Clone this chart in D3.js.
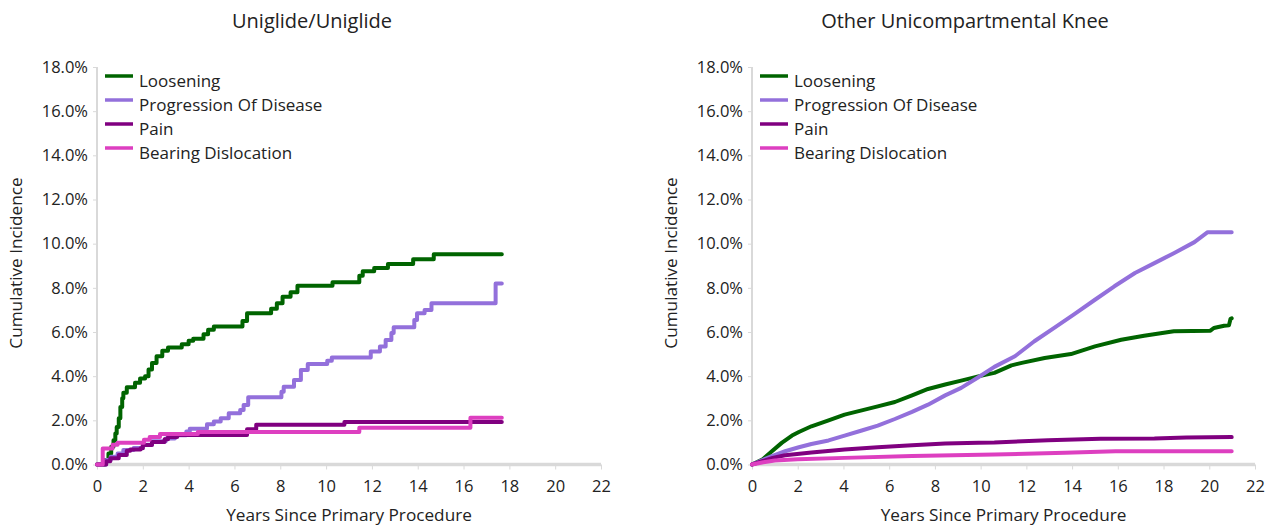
<!DOCTYPE html>
<html>
<head>
<meta charset="utf-8">
<script src="https://cdn.jsdelivr.net/npm/d3@7/dist/d3.min.js"></script>
<style>
  html, body { margin: 0; padding: 0; background: #fff; }
  svg { display: block; }
  text { font-family: "Open Sans", "Noto Sans", sans-serif; fill: #222; }
</style>
</head>
<body>
<svg id="chart" width="1277" height="529"></svg>
<script>
// ---------- DATA ----------
const seriesNames = ["Loosening", "Progression Of Disease", "Pain", "Bearing Dislocation"];
const seriesColors = ["#006400", "#9370DB", "#800080", "#DD3FC0"];
const xTicks = [0, 2, 4, 6, 8, 10, 12, 14, 16, 18, 20, 22];
const yTicks = [0, 2, 4, 6, 8, 10, 12, 14, 16, 18];
const panelTitles = ["Uniglide/Uniglide", "Other Unicompartmental Knee"];

// Uniglide/Uniglide (step curves) [years, cumulative %]
const uniLoosening = [
  [0,0],[0.35,0.2],[0.5,0.5],[0.62,0.8],[0.72,1.1],[0.8,1.4],[0.86,1.7],[0.95,2.1],[1.02,2.6],[1.1,3.0],[1.15,3.25],[1.3,3.5],
  [1.66,3.7],[1.88,3.9],[2.1,4.0],[2.25,4.3],[2.4,4.6],[2.6,4.9],[2.85,5.15],[3.1,5.3],
  [3.7,5.45],[4.0,5.6],[4.2,5.7],[4.65,5.9],[4.85,6.1],[5.1,6.25],[6.35,6.5],[6.55,6.85],
  [7.6,7.05],[7.85,7.3],[8.1,7.6],[8.45,7.8],[8.75,8.1],[10.28,8.25],[11.45,8.55],[11.6,8.75],
  [12.1,8.9],[12.7,9.08],[13.8,9.3],[14.7,9.52],[17.67,9.52]
];
const uniProgression = [
  [0,0],[0.4,0.2],[0.6,0.35],[0.9,0.5],[1.15,0.66],[1.6,0.75],[2.0,0.9],[2.4,1.05],[3.0,1.18],[3.4,1.32],[3.9,1.5],[4.05,1.62],
  [4.8,1.82],[5.1,1.95],[5.4,2.1],[5.75,2.32],[6.25,2.47],[6.4,2.7],[6.6,3.05],[8.05,3.3],[8.15,3.52],
  [8.6,3.83],[8.9,4.28],[9.2,4.55],[10.05,4.7],[10.25,4.85],[11.95,5.12],[12.35,5.34],[12.6,5.64],
  [12.85,5.95],[12.95,6.22],[13.85,6.54],[13.97,6.85],[14.3,7.0],[14.6,7.3],[17.4,8.2],[17.67,8.2]
];
const uniPain = [
  [0,0],[0.4,0.15],[0.58,0.28],[0.95,0.43],[1.3,0.62],[1.45,0.68],[1.9,0.74],[2.0,0.88],[2.4,1.02],[2.95,1.14],
  [3.1,1.25],[3.5,1.34],[6.55,1.6],[6.95,1.8],[10.8,1.93],[17.67,1.93]
];
const uniBearing = [
  [0,0],[0.25,0.72],[0.68,0.9],[0.9,0.98],[2.05,1.12],[2.3,1.25],[2.75,1.38],[4.4,1.47],[11.45,1.66],[16.3,2.12],[17.67,2.12]
];

// Other Unicompartmental Knee [years, cumulative %]
const othLoosening = [
  [0,0],[0.45,0.22],[0.87,0.6],[1.3,0.98],[1.75,1.31],[2.05,1.47],[2.6,1.73],[3.35,2.0],[4.05,2.26],[4.8,2.45],
  [5.5,2.63],[6.25,2.83],[7.0,3.13],[7.7,3.42],[8.45,3.62],[9.15,3.8],[9.9,3.99],[10.6,4.15],[11.35,4.49],
  [11.8,4.6],[12.8,4.82],[13.95,5.0],[15.0,5.35],[16.15,5.65],[17.15,5.83],[18.45,6.03],[20.05,6.06],
  [20.2,6.18],[20.65,6.28],[20.86,6.3],[20.93,6.6],[20.98,6.62]
];
const othProgression = [
  [0,0],[0.87,0.38],[1.45,0.6],[2.05,0.78],[2.6,0.93],[3.35,1.09],[4.05,1.31],[4.8,1.54],[5.5,1.76],[6.25,2.06],
  [7.0,2.38],[7.7,2.71],[8.45,3.13],[9.15,3.47],[9.9,3.95],[10.6,4.42],[11.5,4.9],[12.35,5.58],[13.25,6.21],
  [14.1,6.81],[15.0,7.46],[15.85,8.07],[16.75,8.67],[17.6,9.12],[18.45,9.57],[19.35,10.07],[19.93,10.52],[20.98,10.52]
];
const othPain = [
  [0,0],[0.9,0.3],[1.45,0.42],[2.6,0.54],[4.05,0.68],[5.5,0.78],[7.0,0.87],[8.45,0.95],[9.9,0.99],[10.6,1.0],
  [12.95,1.1],[15.25,1.17],[17.6,1.18],[19.0,1.22],[20.98,1.24]
];
const othBearing = [
  [0,0],[0.5,0.1],[1.0,0.18],[2.0,0.24],[4.05,0.3],[7.0,0.38],[10.6,0.45],[13.7,0.53],[15.9,0.6],[20.98,0.6]
];

const panels = [
  { title: panelTitles[0], data: [uniLoosening, uniProgression, uniPain, uniBearing], step: true,
    x0: 97, x1: 601, titleX: 312, yLabelX: 22, legendX: 105 },
  { title: panelTitles[1], data: [othLoosening, othProgression, othPain, othBearing], step: false,
    x0: 752, x1: 1255, titleX: 965, yLabelX: 677, legendX: 760 }
];

// ---------- DRAW ----------
const svg = d3.select("#chart");
const yTop = 67, yBottom = 464.5;
const tickFs = 16.5, labelFs = 17.2, legendFs = 17, titleFs = 20;

panels.forEach(p => {
  const g = svg.append("g");
  const x = d3.scaleLinear().domain([0, 22]).range([p.x0, p.x1]);
  const y = d3.scaleLinear().domain([0, 18]).range([yBottom, yTop]);

  // title
  g.append("text").attr("x", p.titleX).attr("y", 28).attr("text-anchor", "middle")
    .style("font-size", titleFs + "px").text(p.title);

  // y axis
  const yAxis = g.append("g").attr("transform", `translate(${p.x0},0)`)
    .call(d3.axisLeft(y).tickValues(yTicks).tickSize(4).tickPadding(5).tickFormat(d => d.toFixed(1) + "%"));
  yAxis.select(".domain").attr("stroke", "#d9d9d9").attr("stroke-width", 2)
    .attr("d", `M0,${yBottom}V${yTop}`);
  yAxis.selectAll(".tick line").attr("stroke", "#d9d9d9");
  yAxis.selectAll(".tick text").style("font-size", tickFs + "px").style("font-family", "Open Sans").attr("fill", "#222");

  // x axis
  const xAxis = g.append("g").attr("transform", `translate(0,${yBottom})`)
    .call(d3.axisBottom(x).tickValues(xTicks).tickSize(5).tickPadding(11).tickFormat(d3.format("d")));
  xAxis.select(".domain").attr("stroke", "#d9d9d9").attr("stroke-width", 3.5)
    .attr("d", `M${p.x0},0H${p.x1}`);
  xAxis.selectAll(".tick line").attr("stroke", "#d9d9d9");
  xAxis.selectAll(".tick text").style("font-size", tickFs + "px").style("font-family", "Open Sans").attr("fill", "#222");

  // axis titles
  g.append("text").attr("x", (p.x0 + p.x1) / 2).attr("y", 521).attr("text-anchor", "middle")
    .style("font-size", labelFs + "px").text("Years Since Primary Procedure");
  g.append("text").attr("transform", `translate(${p.yLabelX},263) rotate(-90)`).attr("text-anchor", "middle")
    .style("font-size", labelFs + "px").text("Cumulative Incidence");

  // lines
  const line = d3.line().x(d => x(d[0])).y(d => y(d[1]))
    .curve(p.step ? d3.curveStepAfter : d3.curveLinear);
  p.data.forEach((s, i) => {
    g.append("path").datum(s).attr("fill", "none").attr("stroke", seriesColors[i])
      .attr("stroke-width", 4).attr("stroke-linejoin", "round").attr("stroke-linecap", "round").attr("d", line);
  });

  // legend
  seriesNames.forEach((n, i) => {
    const ly = 76 + i * 24;
    g.append("line").attr("x1", p.legendX).attr("x2", p.legendX + 28).attr("y1", ly).attr("y2", ly)
      .attr("stroke", seriesColors[i]).attr("stroke-width", 3.5);
    g.append("text").attr("x", p.legendX + 34).attr("y", ly + 11).style("font-size", legendFs + "px").text(n);
  });
});
</script>
</body>
</html>
